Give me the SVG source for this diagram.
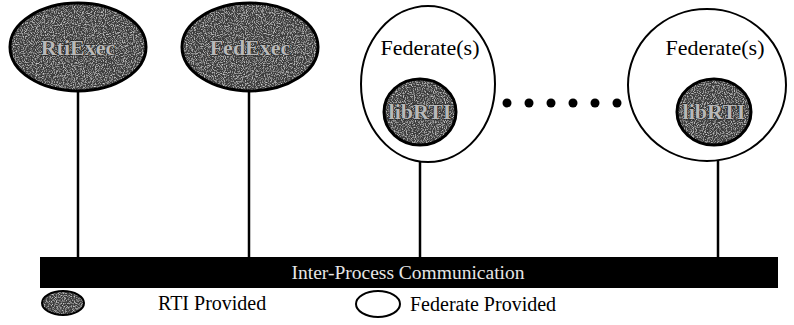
<svg xmlns="http://www.w3.org/2000/svg" width="794" height="325" viewBox="0 0 794 325">
  <defs>
    <!-- speckled grey fill for RTI-provided components -->
    <filter id="grain" x="-5%" y="-5%" width="110%" height="110%">
      <feTurbulence type="fractalNoise" baseFrequency="0.9" numOctaves="2" seed="3" result="noise"/>
      <feColorMatrix in="noise" type="matrix" values="0 0 0 0 1  0 0 0 0 1  0 0 0 0 1  1.6 0 0 0 -0.75" result="specks"/>
      <feComposite in="specks" in2="SourceGraphic" operator="in" result="clipped"/>
      <feMerge>
        <feMergeNode in="SourceGraphic"/>
        <feMergeNode in="clipped"/>
      </feMerge>
    </filter>
  </defs>
  <style>
    .rti-fill { fill: #3c3c3c; stroke: none; }
    .rti-edge { fill: none; stroke: #000; stroke-width: 3; }
    .fed { fill: #fff; stroke: #000; stroke-width: 2; }
    .link { stroke: #000; stroke-width: 2.5; fill: none; }
    .lbl { fill: #000; }
    .inner { font-size: 22px; font-weight: bold; fill: #b8b8b8; stroke: #1a1a1a; stroke-width: 1;
             paint-order: stroke; text-anchor: middle; }
    .bus { font-size: 19.5px; fill: #e6e6e6; text-anchor: middle; }
  </style>

  <!-- connectors from each process down to the communication bus -->
  <g id="connectors">
    <line class="link" x1="78" y1="90" x2="78" y2="257"/>
    <line class="link" x1="249" y1="90" x2="249" y2="257"/>
    <line class="link" x1="420" y1="145" x2="420" y2="257"/>
    <line class="link" x1="718" y1="145" x2="718" y2="257"/>
  </g>

  <g id="rtiexec">
    <ellipse class="rti-fill" filter="url(#grain)" cx="78" cy="47" rx="68" ry="44"/>
    <ellipse class="rti-edge" cx="78" cy="47" rx="68" ry="44"/>
    <text class="inner" font-family="Liberation Serif, DejaVu Serif, serif" x="78" y="55">RtiExec</text>
  </g>

  <g id="fedexec">
    <ellipse class="rti-fill" filter="url(#grain)" cx="250" cy="47" rx="68" ry="44"/>
    <ellipse class="rti-edge" cx="250" cy="47" rx="68" ry="44"/>
    <text class="inner" font-family="Liberation Serif, DejaVu Serif, serif" x="250" y="55">FedExec</text>
  </g>

  <g id="federate1">
    <ellipse class="fed" cx="428" cy="84" rx="67" ry="78"/>
    <text class="lbl" font-family="Liberation Serif, DejaVu Serif, serif" x="430" y="55" font-size="22" text-anchor="middle">Federate(s)</text>
    <ellipse class="rti-fill" filter="url(#grain)" cx="420" cy="112" rx="36" ry="33"/>
    <ellipse class="rti-edge" cx="420" cy="112" rx="36" ry="33"/>
    <text class="inner" font-family="Liberation Serif, DejaVu Serif, serif" x="420" y="119">libRTI</text>
  </g>

  <g id="ellipsis">
    <circle cx="507" cy="103" r="4.5"/>
    <circle cx="529" cy="103" r="4.5"/>
    <circle cx="551" cy="103" r="4.5"/>
    <circle cx="573" cy="103" r="4.5"/>
    <circle cx="595" cy="103" r="4.5"/>
    <circle cx="617" cy="103" r="4.5"/>
  </g>

  <g id="federate2">
    <ellipse class="fed" cx="707" cy="85" rx="79" ry="76"/>
    <text class="lbl" font-family="Liberation Serif, DejaVu Serif, serif" x="715" y="55" font-size="22" text-anchor="middle">Federate(s)</text>
    <ellipse class="rti-fill" filter="url(#grain)" cx="714" cy="112" rx="37" ry="33"/>
    <ellipse class="rti-edge" cx="714" cy="112" rx="37" ry="33"/>
    <text class="inner" font-family="Liberation Serif, DejaVu Serif, serif" x="714" y="119">libRTI</text>
  </g>

  <g id="bus">
    <rect x="40" y="257" width="738" height="31" fill="#000"/>
    <text class="bus" font-family="Liberation Serif, DejaVu Serif, serif" x="408" y="279">Inter-Process Communication</text>
  </g>

  <g id="legend">
    <ellipse class="rti-fill" filter="url(#grain)" cx="63" cy="303" rx="21" ry="12"/>
    <ellipse class="rti-edge" cx="63" cy="303" rx="21" ry="12" style="stroke-width:2"/>
    <text class="lbl" font-family="Liberation Serif, DejaVu Serif, serif" x="158" y="310" font-size="20">RTI Provided</text>
    <ellipse class="fed" cx="378" cy="304" rx="22" ry="13"/>
    <text class="lbl" font-family="Liberation Serif, DejaVu Serif, serif" x="410" y="311" font-size="20">Federate Provided</text>
  </g>
</svg>
